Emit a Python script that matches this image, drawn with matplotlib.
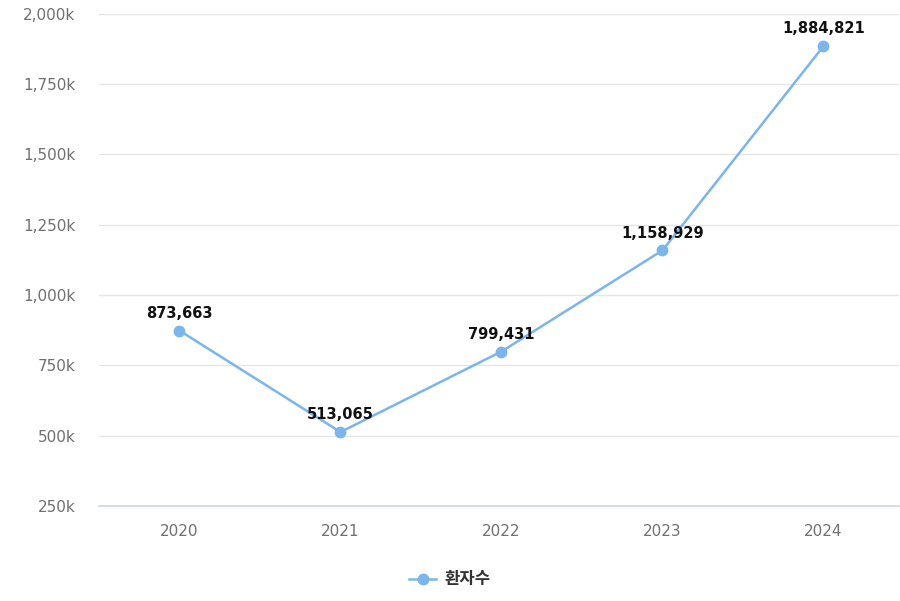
import matplotlib
matplotlib.use("Agg")
import matplotlib.pyplot as plt
from matplotlib.ticker import FuncFormatter

plt.rcParams['font.family'] = ['DejaVu Sans', 'Noto Sans CJK KR']

# data
years = ['2020', '2021', '2022', '2023', '2024']
patients = [873663, 513065, 799431, 1158929, 1884821]
series_name = '환자수'
y_ticks = [250000, 500000, 750000, 1000000, 1250000, 1500000, 1750000, 2000000]

line_color = '#7cb5ec'

fig = plt.figure(figsize=(9, 6.01), dpi=100)
ax = fig.add_axes([0.11, 0.158, 0.889, 0.819])

x = list(range(len(years)))
ax.plot(x, patients, color=line_color, lw=1.8, marker='o', ms=7.5,
        label=series_name, zorder=3)

for xi, v in zip(x, patients):
    ax.annotate(f'{v:,}', (xi, v), xytext=(0, 7), textcoords='offset points',
                ha='center', va='bottom', fontsize=10.5, fontweight='bold',
                color='#111111', zorder=4)

ax.set_xlim(-0.5, 4.47)
ax.set_ylim(250000, 2000000)
ax.set_yticks(y_ticks)
ax.yaxis.set_major_formatter(FuncFormatter(lambda v, p: f'{int(v / 1000):,}k'))
ax.set_xticks(x)
ax.set_xticklabels(years)

ax.grid(axis='y', color='#e6e6e6', lw=1)
ax.set_axisbelow(True)
for s in ['top', 'right', 'left']:
    ax.spines[s].set_visible(False)
ax.spines['bottom'].set_color('#ccd6eb')
ax.spines['bottom'].set_linewidth(1.2)
ax.tick_params(axis='both', length=0, colors='#707070', labelsize=11)
ax.tick_params(axis='y', pad=17)
ax.tick_params(axis='x', pad=13)

leg = fig.legend(loc='center', bbox_to_anchor=(0.5, 0.036), frameon=False,
                 prop={'family': ['Noto Sans CJK KR', 'DejaVu Sans'],
                       'size': 12, 'weight': 'bold'},
                 handlelength=1.6, handletextpad=0.5)
for t in leg.get_texts():
    t.set_color('#333333')

fig.savefig('out.png', dpi=100)
